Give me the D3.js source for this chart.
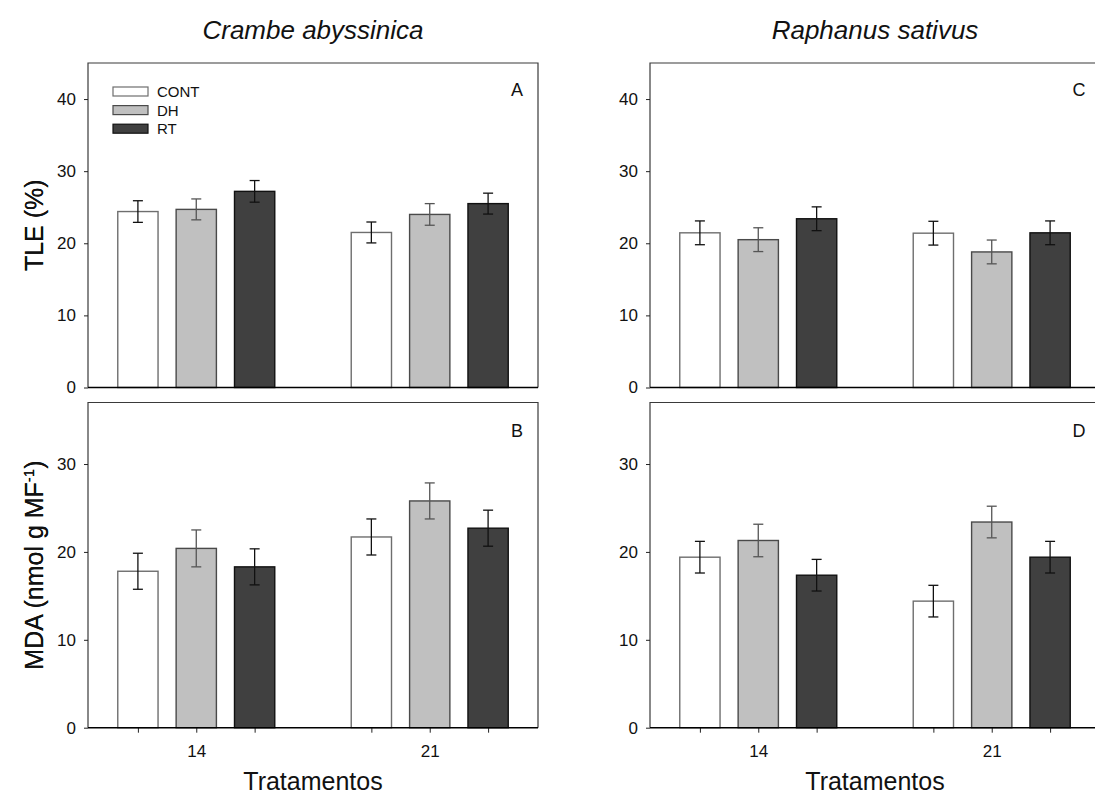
<!DOCTYPE html>
<html>
<head>
<meta charset="utf-8">
<script src="https://cdn.jsdelivr.net/npm/d3@7"></script>
<style>
  body { margin: 0; background: #fff; }
  svg text { font-family: "Liberation Sans", Arial, sans-serif; fill: #111; }
</style>
</head>
<body>
<script>
'use strict';

// groups (days) and treatments
var days = ["14", "21"];
var treatments = ["CONT", "DH", "RT"];

// values ordered: day 14 (CONT, DH, RT), day 21 (CONT, DH, RT)
var tleCrambe     = [24.4, 24.7, 27.2, 21.5, 24.0, 25.5];
var tleCrambeSE   = [1.5, 1.45, 1.5, 1.45, 1.5, 1.45];
var mdaCrambe     = [17.8, 20.4, 18.3, 21.7, 25.8, 22.7];
var mdaCrambeSE   = [2.05, 2.1, 2.05, 2.05, 2.05, 2.05];
var tleRaphanus   = [21.45, 20.5, 23.4, 21.4, 18.8, 21.45];
var tleRaphanusSE = [1.65, 1.65, 1.65, 1.65, 1.65, 1.65];
var mdaRaphanus   = [19.4, 21.3, 17.35, 14.4, 23.4, 19.4];
var mdaRaphanusSE = [1.8, 1.85, 1.8, 1.8, 1.8, 1.8];

var tleTicks = [0, 10, 20, 30, 40];
var mdaTicks = [0, 10, 20, 30];

var fills   = {CONT: "#ffffff", DH: "#c0c0c0", RT: "#404040"};
var strokes = {CONT: "#6e6e6e", DH: "#4a4a4a", RT: "#111111"};
var errCol  = {CONT: "#111111", DH: "#555555", RT: "#111111"};

var svg = d3.select("body").append("svg")
    .attr("width", 1095)
    .attr("height", 796);

var W = 450;
var topPanel = {top: 63, h: 324.5, max: 45, ticks: tleTicks};
var botPanel = {top: 402.5, h: 325.2, max: 37, ticks: mdaTicks};

// bar slot positions: day index * 4 + treatment index
function slot(i) { return Math.floor(i / 3) * 4 + (i % 3); }

function drawPanel(left, p, vals, errs, letter, yLabel, showX) {
  var x = d3.scaleLinear().domain([-0.855, 6.855]).range([0, W]);
  var y = d3.scaleLinear().domain([0, p.max]).range([p.h, 0]);
  var bw = x(0.345) - x(-0.345);

  var g = svg.append("g").attr("transform", "translate(" + left + "," + p.top + ")");

  // frame (left, top, right)
  g.append("path")
      .attr("d", "M0," + p.h + "V0H" + W + "V" + p.h)
      .attr("fill", "none")
      .attr("stroke", "#3a3a3a")
      .attr("stroke-width", 1.2);

  var data = vals.map(function(v, i) {
    return {v: v, e: errs[i], s: slot(i), t: treatments[i % 3]};
  });

  g.selectAll(".bar").data(data).enter().append("rect")
      .attr("class", "bar")
      .attr("x", function(d) { return x(d.s) - bw / 2; })
      .attr("y", function(d) { return y(d.v); })
      .attr("width", bw)
      .attr("height", function(d) { return p.h - y(d.v); })
      .attr("fill", function(d) { return fills[d.t]; })
      .attr("stroke", function(d) { return strokes[d.t]; })
      .attr("stroke-width", 1.4);

  var eb = g.selectAll(".err").data(data).enter().append("g")
      .attr("class", "err")
      .attr("stroke", function(d) { return errCol[d.t]; })
      .attr("stroke-width", 1.3);
  eb.append("line")
      .attr("x1", function(d) { return x(d.s); })
      .attr("x2", function(d) { return x(d.s); })
      .attr("y1", function(d) { return y(d.v - d.e); })
      .attr("y2", function(d) { return y(d.v + d.e); });
  eb.append("line")
      .attr("x1", function(d) { return x(d.s) - 5; })
      .attr("x2", function(d) { return x(d.s) + 5; })
      .attr("y1", function(d) { return y(d.v + d.e); })
      .attr("y2", function(d) { return y(d.v + d.e); });
  eb.append("line")
      .attr("x1", function(d) { return x(d.s) - 5; })
      .attr("x2", function(d) { return x(d.s) + 5; })
      .attr("y1", function(d) { return y(d.v - d.e); })
      .attr("y2", function(d) { return y(d.v - d.e); });

  // y axis
  var ya = g.append("g")
      .call(d3.axisLeft(y).tickValues(p.ticks).tickSize(4).tickPadding(8).tickSizeOuter(0));
  ya.select(".domain").remove();
  ya.selectAll("text").style("font-size", "17px");
  ya.selectAll("line").attr("stroke", "#222");

  // bottom axis line
  var xa = g.append("g").attr("transform", "translate(0," + p.h + ")");
  if (showX) {
    xa.call(d3.axisBottom(x)
        .tickValues(data.map(function(d) { return d.s; }))
        .tickSize(5).tickPadding(12).tickSizeOuter(0)
        .tickFormat(function(s) { return s % 4 === 1 ? days[Math.floor(s / 4)] : ""; }));
    xa.selectAll("text").style("font-size", "17px");
    xa.selectAll("line").attr("stroke", "#222");
    xa.select(".domain").remove();
  }
  xa.append("line")
      .attr("x1", 0).attr("x2", W)
      .attr("stroke", "#000")
      .attr("stroke-width", 1.4);

  // panel letter
  g.append("text")
      .attr("x", W - 21)
      .attr("y", showX ? 34.5 : 33)
      .attr("text-anchor", "middle")
      .style("font-size", "18px")
      .text(letter);

  // y title
  var yt = g.append("text")
      .attr("transform", "translate(" + (43 - left) + "," + (p.h / 2) + ") rotate(-90)")
      .attr("text-anchor", "middle")
      .style("font-size", "25px");
  if (yLabel === "TLE") {
    yt.text("TLE (%)");
  } else {
    yt.append("tspan").text("MDA  (nmol g MF");
    yt.append("tspan").attr("dy", -9).style("font-size", "15px").text("-1");
    yt.append("tspan").attr("dy", 9).text(")");
  }

  if (showX) {
    g.append("text")
        .attr("x", W / 2)
        .attr("y", 790 - p.top)
        .attr("text-anchor", "middle")
        .style("font-size", "25px")
        .text("Tratamentos");
  }
  return g;
}

drawPanel(88, topPanel, tleCrambe, tleCrambeSE, "A", "TLE", false);
drawPanel(88, botPanel, mdaCrambe, mdaCrambeSE, "B", "MDA", true);
drawPanel(650, topPanel, tleRaphanus, tleRaphanusSE, "C", "TLE", false);
drawPanel(650, botPanel, mdaRaphanus, mdaRaphanusSE, "D", "MDA", true);

// species titles
var species = ["Crambe abyssinica", "Raphanus sativus"];
svg.selectAll(".sp").data(species).enter().append("text")
    .attr("class", "sp")
    .attr("x", function(d, i) { return (i === 0 ? 88 : 650) + W / 2; })
    .attr("y", 39)
    .attr("text-anchor", "middle")
    .style("font-size", "26px")
    .style("font-style", "italic")
    .text(function(d) { return d; });

// legend (panel A)
var leg = svg.selectAll(".leg").data(treatments).enter().append("g")
    .attr("class", "leg")
    .attr("transform", function(d, i) { return "translate(113," + (87 + i * 18.6) + ")"; });
leg.append("rect")
    .attr("width", 35)
    .attr("height", 9)
    .attr("fill", function(d) { return fills[d]; })
    .attr("stroke", function(d) { return strokes[d]; })
    .attr("stroke-width", 1.2);
leg.append("text")
    .attr("x", 44)
    .attr("y", 10)
    .style("font-size", "15px")
    .text(function(d) { return d; });
</script>
</body>
</html>
